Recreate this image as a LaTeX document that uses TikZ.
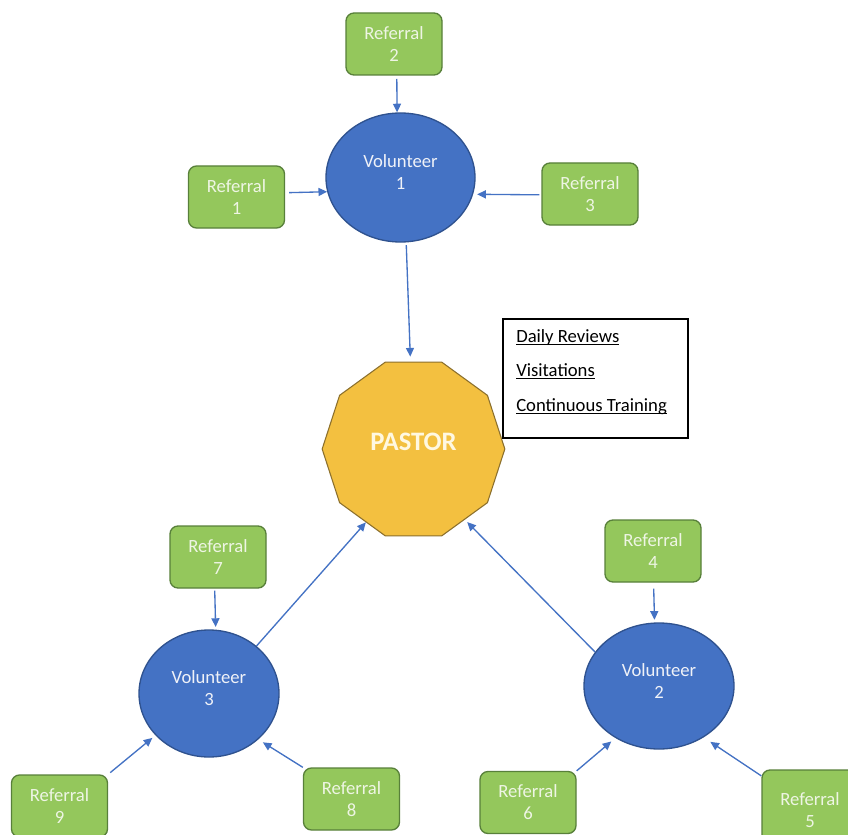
\documentclass[tikz,border=0pt]{standalone}
\usepackage{fontspec}
\setmainfont{Carlito}
\usetikzlibrary{shapes.geometric,arrows.meta}
\definecolor{refgreen}{RGB}{148,199,92}
\definecolor{refborder}{RGB}{88,128,58}
\definecolor{reftext}{RGB}{238,245,228}
\definecolor{volblue}{RGB}{68,114,196}
\definecolor{volborder}{RGB}{47,82,143}
\definecolor{voltext}{RGB}{240,242,248}
\definecolor{pastorfill}{RGB}{243,192,64}
\definecolor{pastorborder}{RGB}{140,112,45}
\definecolor{pastortext}{RGB}{255,248,225}
\definecolor{arrowblue}{RGB}{68,114,196}
\newcommand\myul[1]{\setbox0\hbox{#1}\rlap{\rule[-2pt]{\wd0}{0.8pt}}\box0}
\tikzset{
  refbox/.style={draw=refborder, fill=refgreen, line width=1pt, rounded corners=6pt,
    minimum width=72pt, minimum height=46.5pt, inner sep=0pt, align=center,
    text=reftext, font=\fontsize{14}{16.5}\selectfont},
  volnode/.style={ellipse, draw=volborder, fill=volblue, line width=1pt, inner sep=0pt,
    text=voltext, font=\fontsize{14}{16.5}\selectfont},
  notetext/.style={inner sep=0pt, anchor=base west, text=black, font=\fontsize{14}{16.5}\selectfont},
  arr/.style={draw=arrowblue, line width=1pt, -{Triangle[length=6.5pt,width=6pt]}},
}
\newcommand\voltxt[1]{\raisebox{2.25pt}[\height][\depth]{\begin{tabular}{@{}c@{}}Volunteer\\#1\end{tabular}}}
\begin{document}
\begin{tikzpicture}[x={(0.75pt,0pt)}, y={(0pt,-0.75pt)}]
\useasboundingbox (0,0) rectangle (848,834);
\clip (0,0) rectangle (848,834);
\fill[white] (0,0) rectangle (848,834);

% volunteers
\node[volnode, minimum width=111.75pt, minimum height=96.75pt] (v1) at (400.5,177.5) {\voltxt{1}};
\node[volnode, minimum width=105pt, minimum height=95.25pt] (v3) at (209,693.5) {\voltxt{3}};
\node[volnode, minimum width=112.5pt, minimum height=94.5pt] (v2) at (659,686) {\voltxt{2}};

% pastor
\node[regular polygon, regular polygon sides=10, minimum size=137pt, inner sep=0pt,
  fill=pastorfill, draw=pastorborder, line width=0.8pt, text=pastortext,
  font=\bfseries\fontsize{20}{22}\selectfont] (pastor) at (413.5,449) {\raisebox{5.4pt}[\height][\depth]{PASTOR}};

% referrals
\node[refbox] (r1) at (236.5,197) {Referral\\1};
\node[refbox] (r2) at (394,44) {Referral\\2};
\node[refbox] (r3) at (590,194) {Referral\\3};
\node[refbox] (r4) at (653,551) {Referral\\4};
\node[refbox, minimum height=60pt] (r5) at (810,810) {Referral\\5};
\node[refbox] (r6) at (528,802.5) {Referral\\6};
\node[refbox] (r7) at (218,557) {Referral\\7};
\node[refbox] (r8) at (351.5,799) {Referral\\8};
\node[refbox] (r9) at (59.5,806) {Referral\\9};

% notes box
\node[draw=black, line width=0.8pt, minimum width=138.75pt, minimum height=89.25pt, inner sep=0pt] (notes) at (595.5,378.5) {};
\node[notetext] (n1) at (516,342) {\myul{Daily Reviews}};
\node[notetext] (n2) at (516,376) {\myul{Visitations}};
\node[notetext] (n3) at (516,411.5) {\myul{Continuous Training}};

% connectors
\draw[arr, shorten <=3pt] (r1.5) -- (v1.191.6);
\draw[arr, shorten <=2.5pt] (r2.275.5) -- (v1.93);
\draw[arr, shorten <=1.5pt, shorten >=3pt] (r3.181) -- (v1.347);
\draw[arr, shorten <=2pt, shorten >=3.75pt] (v1.275.5) -- (pastor.92);
\draw[arr, shorten <=1.5pt, shorten >=2pt] (r7.264.5) -- (v3.84.6);
\draw[arr] (v3.45) -- (pastor.237.4);
\draw[arr, shorten <=2pt, shorten >=3pt] (r9.north east) -- (v3.218.5);
\draw[arr, shorten >=4pt] (r8.north west) -- (v3.317.5);
\draw[arr, shorten <=4.5pt, shorten >=2pt] (r4.271.8) -- (v2.94.5);
\draw[arr, shorten >=2.5pt] (v2.152.7) -- (pastor.306.2);
\draw[arr, shorten >=4pt] (r6.north east) -- (v2.230.6);
\draw[arr, shorten >=6pt] (r5.145.5) -- (v2.311.8);
\end{tikzpicture}
\end{document}
